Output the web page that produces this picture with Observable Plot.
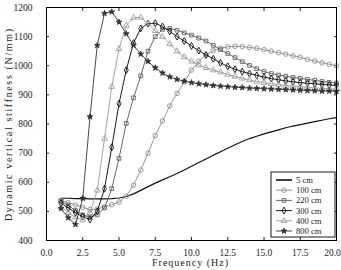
<!DOCTYPE html>
<html>
<head>
<meta charset="utf-8">
<script src="https://cdn.jsdelivr.net/npm/d3@7"></script>
<script src="https://cdn.jsdelivr.net/npm/@observablehq/plot@0.6"></script>
<style>
  html, body { margin: 0; padding: 0; background: #fff; }
  #chart { position: relative; width: 341px; height: 270px; }
  svg { font-family: "Liberation Serif", serif; }
</style>
</head>
<body>
<div id="chart"></div>
<script>
// Frequency (Hz)
const freq = [1,1.5,2,2.5,3,3.5,4,4.5,5,5.5,6,6.5,7,7.5,8,8.5,9,9.5,10,10.5,11,11.5,12,12.5,13,13.5,14,14.5,15,15.5,16,16.5,17,17.5,18,18.5,19,19.5,20];
// Dynamic vertical stiffness (N/mm) per series
const s5   = [545,545,544,544,543,543,543,544,546,551,560,572,585,597,608,619,630,642,655,668,680,693,705,717,729,740,750,758,766,773,780,787,793,798,803,808,813,818,822];
const s100 = [538,530,522,514,506,508,516,523,532,552,590,642,700,760,810,862,905,945,985,1015,1037,1052,1060,1065,1067,1066,1063,1060,1055,1050,1045,1040,1034,1029,1022,1016,1010,1005,1000];
const s220 = [535,520,503,488,480,488,512,578,682,802,890,965,1050,1100,1125,1128,1122,1113,1105,1095,1085,1070,1055,1042,1028,1014,1001,990,980,973,968,964,960,957,953,950,946,943,941];
const s300 = [528,512,495,482,472,500,578,720,870,985,1078,1128,1145,1146,1135,1118,1100,1085,1068,1052,1037,1024,1010,998,988,980,973,967,961,956,952,948,945,942,940,938,936,934,933];
const s400 = [515,495,480,470,495,572,750,928,1058,1138,1165,1166,1145,1120,1100,1075,1050,1030,1015,1002,993,985,978,970,963,957,951,946,942,938,935,932,930,928,926,924,922,921,920];
const s800 = [510,478,455,545,825,1070,1180,1185,1150,1110,1070,1040,1015,993,975,962,953,947,942,938,935,932,930,928,926,925,923,922,921,920,919,918,917,916,915,914,913,913,912];

const seriesNames = ["5 cm","100 cm","220 cm","300 cm","400 cm","800 cm"];
const seriesValues = [s5, s100, s220, s300, s400, s800];
const xTicks = [0,2.5,5,7.5,10,12.5,15,17.5,20];
const yTicks = [400,500,600,700,800,900,1000,1100,1200];

// styles (not data)
const styles = [
  {stroke:"#111", symbol:null, fill:"none", r:0},
  {stroke:"#8a8a8a", symbol:"circle", fill:"none", r:2.3},
  {stroke:"#5a5a5a", symbol:"square", fill:"none", r:2.1},
  {stroke:"#000", symbol:"diamond", fill:"none", r:2.1},
  {stroke:"#9a9a9a", symbol:"triangle", fill:"none", r:2.2},
  {stroke:"#333", symbol:"star", fill:"#333", r:1.8}
];

const series = seriesNames.map((name, i) => freq.map((f, j) => ({name, f, v: seriesValues[i][j]})));

const marks = [];
series.forEach((rows, i) => {
  const st = styles[i];
  marks.push(Plot.line(rows, {x: "f", y: "v", stroke: st.stroke, strokeWidth: i === 0 ? 1.2 : 0.9}));
  if (st.symbol) {
    marks.push(Plot.dot(rows, {x: "f", y: "v", symbol: () => st.symbol, stroke: st.stroke, fill: st.fill, r: st.r, strokeWidth: 0.85}));
  }
});

const xInner = xTicks.slice(0, -1);
const xLast = xTicks.slice(-1);

const plot = Plot.plot({
  width: 341,
  height: 270,
  marginLeft: 46,
  marginRight: 5,
  marginTop: 7,
  marginBottom: 30,
  style: {fontFamily: "Liberation Serif, serif", fontSize: "9px", background: "#fff", color: "#222"},
  x: {domain: [0, 20]},
  y: {domain: [400, 1200]},
  symbol: {type: "identity"},
  marks: [
    Plot.axisX(xTicks, {anchor: "bottom", tickSize: -3, tickFormat: () => "", label: null}),
    Plot.axisX(xInner, {anchor: "bottom", tickSize: 0, tickPadding: 9, tickFormat: d3.format(".1f"), label: null, fontSize: 9.5}),
    Plot.axisX(xLast, {anchor: "bottom", tickSize: 0, tickPadding: 9, tickFormat: d3.format(".1f"), label: null, fontSize: 9.5, dx: -4}),
    Plot.axisX(xTicks, {anchor: "top", tickSize: -3, tickFormat: () => "", label: null}),
    Plot.axisY(yTicks, {anchor: "left", tickSize: -3, tickPadding: 17, tickFormat: d3.format("d"), label: null, fontSize: 9.5}),
    Plot.axisY(yTicks, {anchor: "right", tickSize: -3, tickFormat: () => "", label: null}),
    ...marks,
    Plot.frame({stroke: "#000", strokeWidth: 1})
  ]
});

const container = document.getElementById("chart");
container.appendChild(plot);

const svg = d3.select(plot);
// axis labels
svg.append("text")
  .attr("x", 190).attr("y", 266)
  .attr("text-anchor", "middle")
  .attr("font-size", 10).attr("font-family", "Liberation Serif, serif").attr("fill", "#222")
  .attr("textLength", 76).attr("lengthAdjust", "spacing")
  .text("Frequency (Hz)");
svg.append("text")
  .attr("transform", `translate(10,${125}) rotate(-90)`)
  .attr("text-anchor", "middle").attr("dominant-baseline", "middle")
  .attr("font-size", 10).attr("font-family", "Liberation Serif, serif").attr("fill", "#222")
  .attr("textLength", 192).attr("lengthAdjust", "spacing")
  .text("Dynamic vertical stiffness (N/mm)");

// legend
const lg = svg.append("g");
const lx0 = 271, ly0 = 172, lw = 64, lh = 65;
lg.append("rect").attr("x", lx0).attr("y", ly0).attr("width", lw).attr("height", lh)
  .attr("fill", "#fff").attr("stroke", "#000").attr("stroke-width", 0.9);
const typeMap = {circle: d3.symbolCircle, square: d3.symbolSquare, diamond: d3.symbolDiamond, triangle: d3.symbolTriangle, star: d3.symbolStar};
seriesNames.forEach((name, i) => {
  const st = styles[i];
  const y = ly0 + 8 + i * 10.2;
  lg.append("line").attr("x1", lx0 + 5).attr("x2", lx0 + 21).attr("y1", y).attr("y2", y)
    .attr("stroke", st.stroke).attr("stroke-width", i === 0 ? 1.6 : 0.9);
  if (st.symbol) {
    lg.append("path").attr("d", d3.symbol(typeMap[st.symbol], Math.PI * st.r * st.r)())
      .attr("transform", `translate(${lx0 + 13},${y})`)
      .attr("fill", st.fill).attr("stroke", st.stroke).attr("stroke-width", 0.85);
  }
  lg.append("text").attr("x", lx0 + 25).attr("y", y + 3)
    .attr("text-anchor", "start")
    .attr("font-size", 8.5).attr("font-family", "Liberation Serif, serif").attr("fill", "#222")
    .text(name);
});
</script>
</body>
</html>
